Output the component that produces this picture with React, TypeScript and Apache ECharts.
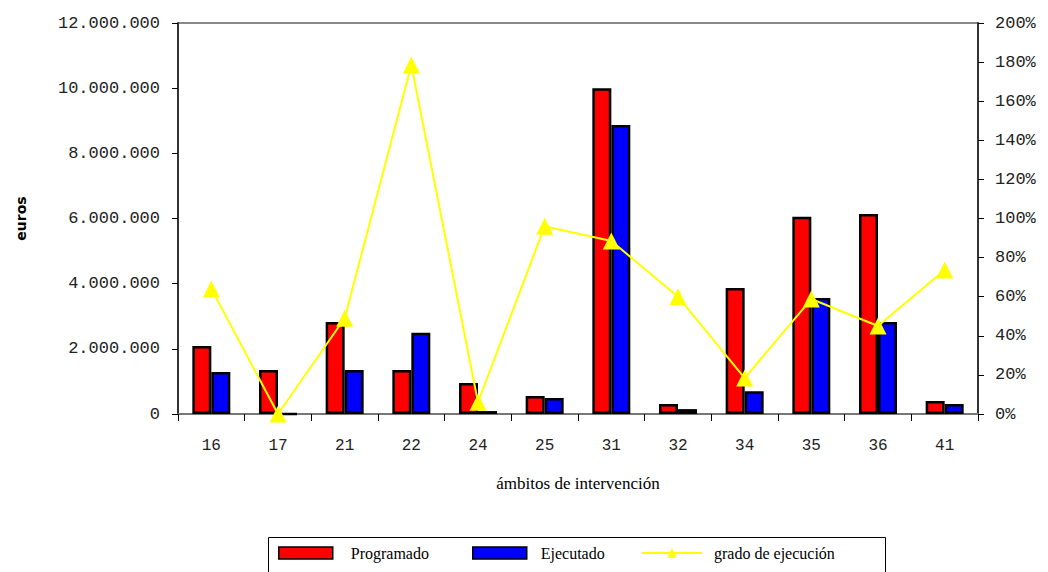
import React, { useEffect, useRef } from "react";
import * as echarts from "echarts";

const categories = ["16", "17", "21", "22", "24", "25", "31", "32", "34", "35", "36", "41"];
const programado = [2090000, 1350000, 2820000, 1350000, 950000, 550000, 10000000, 310000, 3870000, 6050000, 6140000, 400000];
const ejecutado = [1290000, 0, 1350000, 2490000, 90000, 490000, 8870000, 150000, 700000, 3560000, 2820000, 310000];
const grado = [64, 0, 49, 178.5, 6, 96, 88.5, 60, 18.4, 58.8, 45, 73.7];

const fmt = (v: number) => String(Math.round(v)).replace(/\B(?=(\d{3})+(?!\d))/g, ".");

export default function App() {
  const ref = useRef<HTMLDivElement>(null);
  useEffect(() => {
    if (!ref.current) return;
    const chart = echarts.init(ref.current, undefined, { renderer: "svg" });
    const mono = "Liberation Mono";
    const legendText = { fontFamily: "Liberation Serif", fontSize: 16, color: "#000" };
    const mkLegend = (left: number, w: number, pad: number, item: any) => ({
      left,
      top: 545,
      padding: 0,
      itemWidth: w,
      itemHeight: 12,
      formatter: (name: string) => `{t|${name}}`,
      textStyle: { ...legendText, rich: { t: { ...legendText, padding: [0, 0, 0, pad] } } },
      data: [item],
    });
    chart.setOption({
      animation: false,
      backgroundColor: "#fff",
      grid: { left: 178, right: 70, top: 23, bottom: 158 },
      legend: [
        mkLegend(278, 54, 13, { name: "Programado", icon: "rect", itemStyle: { color: "#ff0000", borderColor: "#000", borderWidth: 1.5 } }),
        mkLegend(472, 54, 9, { name: "Ejecutado", icon: "rect", itemStyle: { color: "#0000ff", borderColor: "#000", borderWidth: 1.5 } }),
        mkLegend(641, 60, 7, { name: "grado de ejecución" }),
      ],
      xAxis: {
        type: "category",
        data: categories,
        name: "ámbitos de intervención",
        nameLocation: "middle",
        nameGap: 61,
        nameTextStyle: { fontFamily: "Liberation Serif", fontSize: 17, color: "#000" },
        axisLine: { lineStyle: { color: "#777", width: 2 } },
        axisTick: { show: true, alignWithLabel: false, length: 7, lineStyle: { color: "#000" } },
        axisLabel: { fontFamily: mono, fontSize: 16, color: "#222", margin: 24 },
      },
      yAxis: [
        {
          type: "value",
          min: 0,
          max: 12000000,
          interval: 2000000,
          name: "euros",
          nameLocation: "middle",
          nameGap: 150,
          nameRotate: 90,
          nameTextStyle: { fontFamily: "DejaVu Sans", fontWeight: "bold", fontSize: 14, color: "#000" },
          axisLine: { show: true, lineStyle: { color: "#333", width: 2 } },
          axisTick: { show: true, length: 6, inside: false, lineStyle: { color: "#000" } },
          splitLine: { show: false },
          axisLabel: { fontFamily: mono, fontSize: 17, color: "#222", margin: 18, formatter: (v: number) => fmt(v) },
        },
        {
          type: "value",
          min: 0,
          max: 200,
          interval: 20,
          position: "right",
          axisLine: { show: true, lineStyle: { color: "#333", width: 2 } },
          axisTick: { show: true, length: 6, lineStyle: { color: "#000" } },
          splitLine: { show: false },
          axisLabel: { fontFamily: mono, fontSize: 17, color: "#222", margin: 17, formatter: (v: number) => v + "%" },
        },
      ],
      series: [
        {
          name: "Programado",
          type: "bar",
          data: programado,
          barWidth: 19,
          barGap: "0%",
          itemStyle: { color: "#ff0000", borderColor: "#000", borderWidth: 2.5 },
        },
        {
          name: "Ejecutado",
          type: "bar",
          data: ejecutado,
          barWidth: 19,
          barGap: "0%",
          itemStyle: { color: "#0000ff", borderColor: "#000", borderWidth: 2.5 },
        },
        {
          name: "grado de ejecución",
          type: "line",
          yAxisIndex: 1,
          data: grado,
          symbol: "triangle",
          symbolSize: 17,
          lineStyle: { color: "#ffff00", width: 2 },
          itemStyle: { color: "#ffff00" },
          z: 5,
        },
      ],
      graphic: [
        { type: "line", shape: { x1: 178, y1: 23, x2: 978, y2: 23 }, style: { stroke: "#888", lineWidth: 2 } },
        { type: "rect", shape: { x: 268.5, y: 537.5, width: 617, height: 40 }, style: { fill: "none", stroke: "#000", lineWidth: 1 }, silent: true },
      ],
    });
    return () => chart.dispose();
  }, []);
  return <div ref={ref} style={{ position: "fixed", left: 0, top: 0, width: 1048, height: 572 }} />;
}
